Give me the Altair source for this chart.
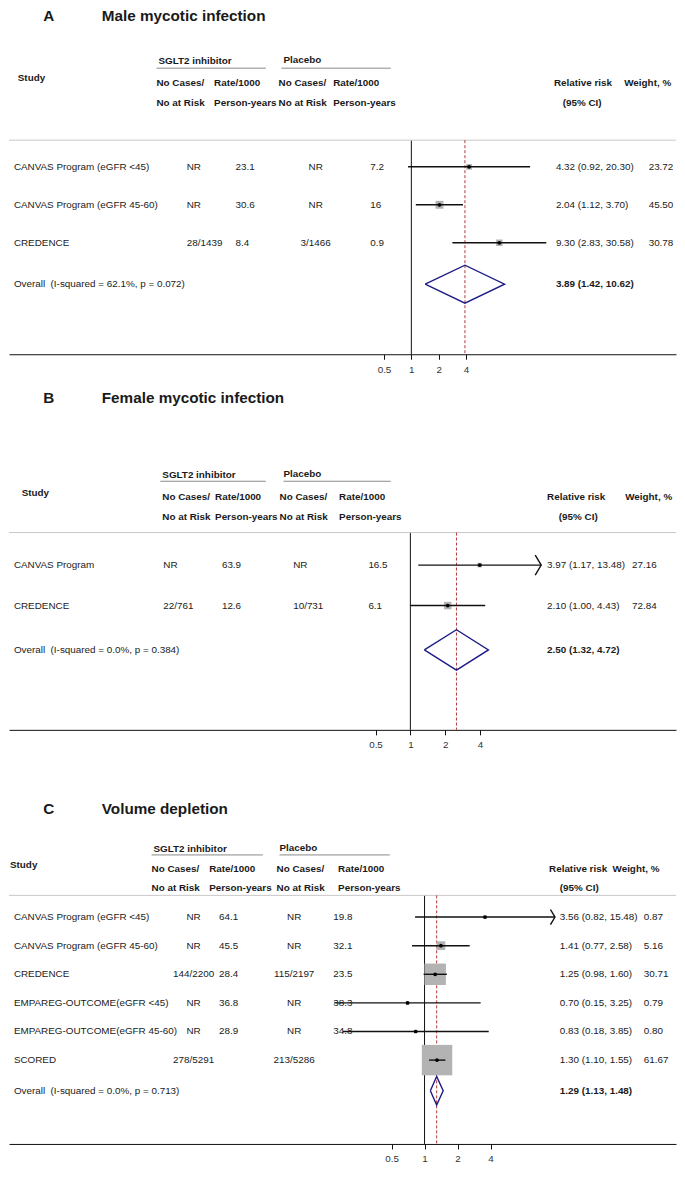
import altair as alt
import pandas as pd

FONT = "Liberation Sans"
TXT = "#1a1a1a"
XOFF, YOFF = 2, 2
SX = 667 / 683
SY = 1164 / 1180
W = 683 * SX

# ---------------- data ----------------
# Panel A: Male mycotic infection
A_studies = ["CANVAS Program (eGFR <45)", "CANVAS Program (eGFR 45-60)", "CREDENCE"]
A_sglt_cases = ["NR", "NR", "28/1439"]
A_sglt_rate = ["23.1", "30.6", "8.4"]
A_pl_cases = ["NR", "NR", "3/1466"]
A_pl_rate = ["7.2", "16", "0.9"]
A_rr = [4.32, 2.04, 9.30]
A_lo = [0.92, 1.12, 2.83]
A_hi = [20.30, 3.70, 30.58]
A_wt = [23.72, 45.50, 30.78]
A_arrow = [False, False, False]
A_overall = [3.89, 1.42, 10.62]
A_overall_label = "Overall\u00a0 (I-squared = 62.1%, p = 0.072)"

# Panel B: Female mycotic infection
B_studies = ["CANVAS Program", "CREDENCE"]
B_sglt_cases = ["NR", "22/761"]
B_sglt_rate = ["63.9", "12.6"]
B_pl_cases = ["NR", "10/731"]
B_pl_rate = ["16.5", "6.1"]
B_rr = [3.97, 2.10]
B_lo = [1.17, 1.00]
B_hi = [13.48, 4.43]
B_wt = [27.16, 72.84]
B_arrow = [True, False]
B_overall = [2.50, 1.32, 4.72]
B_overall_label = "Overall\u00a0 (I-squared = 0.0%, p = 0.384)"

# Panel C: Volume depletion
C_studies = ["CANVAS Program (eGFR <45)", "CANVAS Program (eGFR 45-60)", "CREDENCE",
             "EMPAREG-OUTCOME(eGFR <45)", "EMPAREG-OUTCOME(eGFR 45-60)", "SCORED"]
C_sglt_cases = ["NR", "NR", "144/2200", "NR", "NR", "278/5291"]
C_sglt_rate = ["64.1", "45.5", "28.4", "36.8", "28.9", ""]
C_pl_cases = ["NR", "NR", "115/2197", "NR", "NR", "213/5286"]
C_pl_rate = ["19.8", "32.1", "23.5", "38.3", "34.8", ""]
C_rr = [3.56, 1.41, 1.25, 0.70, 0.83, 1.30]
C_lo = [0.82, 0.77, 0.98, 0.15, 0.18, 1.10]
C_hi = [15.48, 2.58, 1.60, 3.25, 3.85, 1.55]
C_wt = [0.87, 5.16, 30.71, 0.79, 0.80, 61.67]
C_arrow = [True, False, False, False, False, False]
C_overall = [1.29, 1.13, 1.48]
C_overall_label = "Overall\u00a0 (I-squared = 0.0%, p = 0.713)"

TICKS = [0.5, 1, 2, 4]
NULL_VALUE = [1.0]

# ---------------- layout (reference pixel coordinates) ----------------
LAYOUT = {
    "A": dict(top=YOFF, h=353 - YOFF, X1=414, ppd=28.0, y0=163, sp=38.5, yov=282, grey=136,
              letter="A", title="Male mycotic infection", title_y=10,
              sglt=(155, 56, 153, 265, 63), plac=(283, 55, 281, 393, 63),
              study=(11, 73), hdr_cols=[153, 212, 278, 334], hdr_y=(78, 98),
              rr_hdr=(560, 78), w_hdr=(632, 78), ci_hdr=(569, 98),
              cols=[(7, "left"), (184, "left"), (234, "left"), (316, "center"),
                    (372, "left"), (562, "left"), (657, "left")],
              k2=1.42, arrow_size=300),
    "B": dict(top=380, h=353, X1=413, ppd=35.7, y0=566, sp=41, yov=652, grey=533,
              letter="B", title="Female mycotic infection", title_y=397,
              sglt=(159, 475, 157, 265, 481), plac=(283, 474, 283, 393, 481),
              study=(15, 493), hdr_cols=[159, 213, 279, 340], hdr_y=(497, 517),
              rr_hdr=(553, 497), w_hdr=(633, 497), ci_hdr=(565, 517),
              cols=[(7, "left"), (160, "left"), (220, "left"), (293, "left"),
                    (370, "left"), (553, "left"), (640, "left")],
              k2=0.8, arrow_size=400),
    "C": dict(top=760, h=392, X1=427.5, ppd=33.8, y0=922, sp=29, yov=1098, grey=900,
              letter="C", title="Volume depletion", title_y=812,
              sglt=(150, 853, 148, 262, 859), plac=(279, 852, 279, 392, 859),
              study=(3, 869), hdr_cols=[148, 207, 276, 339], hdr_y=(873, 893),
              rr_hdr=(555, 873), w_hdr=(620, 873), ci_hdr=(566, 893),
              cols=[(7, "left"), (191, "center"), (217, "left"), (294, "center"),
                    (334, "left"), (566, "left"), (652, "left")],
              k2=15.6, arrow_size=230),
}

DUMMY = pd.DataFrame({"d": [0]})
FS = 10 * SY
FS_HDR = 10 * SY
FS_TITLE = 15.5 * SY


def panel(cfg, studies, sc, sr, pc, pr, est, lo, hi, wt, arrow, ov, ov_label):
    top, h = cfg["top"], cfg["h"]
    py = lambda Y: (Y - top) * SY
    px = lambda X: (X - XOFF) * SX
    y0, sp = cfg["y0"], cfg["sp"]
    n = len(studies)
    ov_row = 1 + (cfg["yov"] - y0) / sp
    yscale = alt.Scale(domain=[1 + (top - y0) / sp, 1 + (top + h - y0) / sp],
                       reverse=True, nice=False, zero=False)
    X1, ppd = cfg["X1"], cfg["ppd"]
    xscale = alt.Scale(type="log", base=2,
                       domain=[2 ** ((XOFF - X1) / ppd), 2 ** ((685 - X1) / ppd)], nice=False)
    AX = alt.Axis(values=TICKS, format="~g", title=None, grid=False,
                  domainColor="#111", domainWidth=1, tickColor="#111", tickSize=5,
                  tickWidth=1, labelFont=FONT, labelFontSize=10 * SY, labelColor="#333",
                  labelPadding=5, labelFlush=False, labelOverlap=False)

    def X(f):
        return alt.X(f"{f}:Q", scale=xscale, axis=AX)

    Y = alt.Y("row:Q", scale=yscale, axis=None)

    df = pd.DataFrame({
        "study": studies, "sc": sc, "sr": sr, "pc": pc, "pr": pr,
        "est": est, "lo": lo, "hi": hi, "w": wt, "arrow": arrow,
        "row": list(range(1, n + 1)),
    })
    df["rrtxt"] = [f"{e:.2f} ({l:.2f}, {u:.2f})" for e, l, u in zip(est, lo, hi)]
    df["wtxt"] = [f"{v:.2f}" for v in wt]
    ovdf = pd.DataFrame({"label": [ov_label], "est": [ov[0]], "lo": [ov[1]], "hi": [ov[2]],
                         "row": [ov_row],
                         "rrtxt": [f"{ov[0]:.2f} ({ov[1]:.2f}, {ov[2]:.2f})"]})
    dia = pd.DataFrame({"x": [ov[1], ov[0], ov[2], ov[0], ov[1]],
                        "row": [ov_row, ov_row - 0.5, ov_row, ov_row + 0.5, ov_row],
                        "order": [0, 1, 2, 3, 4]})
    nulldf = pd.DataFrame({"v": NULL_VALUE})

    layers = []
    # axis carrier + null line
    layers.append(alt.Chart(nulldf).mark_rule(color="#111", strokeWidth=1).encode(
        x=X("v"), y=alt.value(py(cfg["grey"])), y2=alt.value(h * SY)))
    # grey header separator
    layers.append(alt.Chart(DUMMY).mark_rule(color="#c8c8c8", strokeWidth=1).encode(
        x=alt.value(0), x2=alt.value(W), y=alt.value(py(cfg["grey"]))))
    # group underlines
    for g in (cfg["sglt"], cfg["plac"]):
        layers.append(alt.Chart(DUMMY).mark_rule(color="#8a8a8a", strokeWidth=1).encode(
            x=alt.value(px(g[2])), x2=alt.value(px(g[3])), y=alt.value(py(g[4]))))
    # overall dashed line
    layers.append(alt.Chart(ovdf).mark_rule(color="#b23a3a", strokeWidth=1,
                                            strokeDash=[3, 2]).encode(
        x=X("est"), y=alt.value(py(cfg["grey"])), y2=alt.value(h * SY)))
    # weight squares
    layers.append(alt.Chart(df).mark_square(color="#b3b3b3", opacity=1).encode(
        x=X("est"), y=Y,
        size=alt.Size("w:Q", scale=alt.Scale(domain=[0, 100],
                                             range=[0, cfg["k2"] * 100 * SX * SY]),
                      legend=None)))
    # CI lines
    layers.append(alt.Chart(df).mark_rule(color="#111", strokeWidth=1.4).encode(
        x=X("lo"), x2="hi:Q", y=Y))
    # arrows
    if any(arrow):
        layers.append(alt.Chart(df).transform_filter("datum.arrow").mark_point(
            shape="M-0.6,-1L0,0L-0.6,1", filled=False, color="#111", strokeWidth=1.4,
            size=cfg["arrow_size"], opacity=1).encode(x=X("hi"), y=Y))
    # point estimates
    layers.append(alt.Chart(df).mark_circle(color="#000", size=14, opacity=1).encode(
        x=X("est"), y=Y))
    # diamond
    layers.append(alt.Chart(dia).mark_line(color="#1c1c86", strokeWidth=1.4).encode(
        x=X("x"), y=Y, order="order:Q"))

    # row texts
    colnames = ["study", "sc", "sr", "pc", "pr", "rrtxt", "wtxt"]
    for cname, (cx, al) in zip(colnames, cfg["cols"]):
        layers.append(alt.Chart(df).mark_text(align=al, baseline="middle", font=FONT,
                                              fontSize=FS, color=TXT).encode(
            x=alt.value(px(cx)), y=Y, text=f"{cname}:N"))
    layers.append(alt.Chart(ovdf).mark_text(align="left", baseline="middle", font=FONT,
                                            fontSize=FS, color=TXT).encode(
        x=alt.value(px(cfg["cols"][0][0])), y=Y, text="label:N"))
    layers.append(alt.Chart(ovdf).mark_text(align="left", baseline="middle", font=FONT,
                                            fontSize=FS, fontWeight="bold", color=TXT).encode(
        x=alt.value(px(cfg["cols"][5][0])), y=Y, text="rrtxt:N"))

    # header texts
    def txt(label, x, y, size=FS_HDR, bold=True):
        return alt.Chart(DUMMY).mark_text(
            text=label, align="left", baseline="middle", font=FONT, fontSize=size,
            fontWeight="bold" if bold else "normal", color=TXT).encode(
            x=alt.value(px(x)), y=alt.value(py(y)))

    layers.append(txt(cfg["letter"], 37, cfg["title_y"], FS_TITLE))
    layers.append(txt(cfg["title"], 97, cfg["title_y"], FS_TITLE))
    layers.append(txt("SGLT2 inhibitor", cfg["sglt"][0], cfg["sglt"][1]))
    layers.append(txt("Placebo", cfg["plac"][0], cfg["plac"][1]))
    layers.append(txt("Study", *cfg["study"]))
    l1 = ["No Cases/", "Rate/1000", "No Cases/", "Rate/1000"]
    l2 = ["No at Risk", "Person-years", "No at Risk", "Person-years"]
    for a, b, cx in zip(l1, l2, cfg["hdr_cols"]):
        layers.append(txt(a, cx, cfg["hdr_y"][0]))
        layers.append(txt(b, cx, cfg["hdr_y"][1]))
    layers.append(txt("Relative risk", *cfg["rr_hdr"]))
    layers.append(txt("Weight, %", *cfg["w_hdr"]))
    layers.append(txt("(95% CI)", *cfg["ci_hdr"]))

    return alt.layer(*layers).properties(width=W, height=h * SY)


pA = panel(LAYOUT["A"], A_studies, A_sglt_cases, A_sglt_rate, A_pl_cases, A_pl_rate,
           A_rr, A_lo, A_hi, A_wt, A_arrow, A_overall, A_overall_label)
pB = panel(LAYOUT["B"], B_studies, B_sglt_cases, B_sglt_rate, B_pl_cases, B_pl_rate,
           B_rr, B_lo, B_hi, B_wt, B_arrow, B_overall, B_overall_label)
pC = panel(LAYOUT["C"], C_studies, C_sglt_cases, C_sglt_rate, C_pl_cases, C_pl_rate,
           C_rr, C_lo, C_hi, C_wt, C_arrow, C_overall, C_overall_label)

chart = alt.vconcat(pA, pB, pC, spacing=27 * SY, bounds="flush").resolve_scale(
    size="independent").properties(padding=0).configure_view(strokeWidth=0)

chart.save("out.html", embed_options={"renderer": "svg", "actions": False})
